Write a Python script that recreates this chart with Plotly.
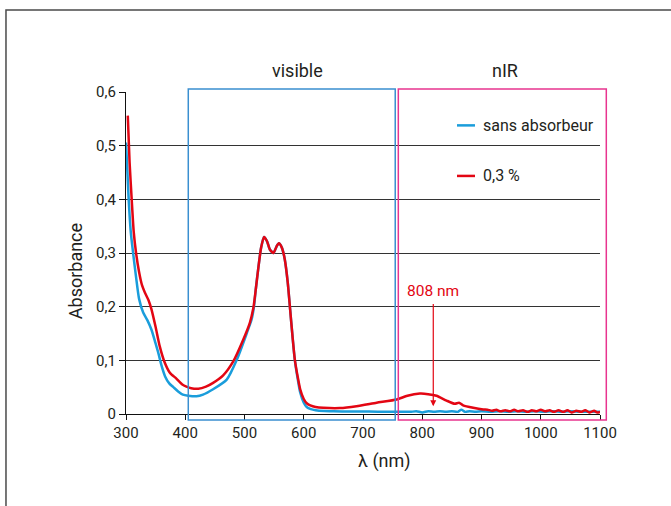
import plotly.graph_objects as go

# ---- data ----
wl_ref = [300, 302, 304.5, 308, 312, 317, 322, 329, 336, 343, 349, 354.5, 360, 366, 373, 380, 388, 396, 405,
          419, 430, 447, 470, 487, 504, 512, 516, 519, 523, 528, 533, 538, 543, 549, 554, 558, 563, 568, 573,
          577, 581, 585, 590, 594, 600, 605, 612, 620, 635, 650, 680, 710, 740, 770, 780, 790, 800, 810, 820,
          830, 840, 850, 860, 866, 872, 880, 890, 900, 915, 930, 945, 960, 975, 990, 1005, 1020, 1035, 1050,
          1065, 1080, 1100]
abs_ref = [0.506, 0.46, 0.40, 0.34, 0.30, 0.255, 0.215, 0.189, 0.175, 0.157, 0.135, 0.114, 0.090, 0.070, 0.057,
           0.050, 0.042, 0.036, 0.034, 0.033, 0.036, 0.046, 0.064, 0.101, 0.151, 0.176, 0.200, 0.232, 0.269,
           0.310, 0.330, 0.322, 0.306, 0.300, 0.312, 0.318, 0.310, 0.288, 0.245, 0.195, 0.145, 0.100, 0.064,
           0.040, 0.021, 0.013, 0.009, 0.007, 0.0055, 0.005, 0.0045, 0.0045, 0.004, 0.004, 0.004, 0.005, 0.003,
           0.005, 0.004, 0.005, 0.004, 0.005, 0.004, 0.008, 0.004, 0.005, 0.004, 0.005, 0.004, 0.005, 0.004,
           0.005, 0.004, 0.005, 0.004, 0.005, 0.004, 0.005, 0.004, 0.004, 0.004]

wl_abs = [303, 306, 309.6, 313, 317, 322, 327, 332, 338, 343, 350, 357, 365, 374, 385, 395, 402, 410, 422, 435,
          447, 464, 481, 498, 509, 515, 519, 523, 528, 533, 538, 543, 549, 554, 558, 563, 568, 573, 577, 581,
          585, 590, 594, 600, 605, 611, 620, 633, 661, 689, 723, 757, 775, 796, 810, 824, 841, 855, 862, 869,
          886, 903, 910, 918, 925, 932, 940, 948, 955, 962, 970, 978, 985, 992, 1000, 1008, 1015, 1022, 1030,
          1038, 1045, 1052, 1060, 1068, 1075, 1082, 1090, 1095, 1100]
abs_abs = [0.556, 0.47, 0.40, 0.34, 0.30, 0.265, 0.24, 0.226, 0.212, 0.195, 0.162, 0.126, 0.097, 0.077, 0.066,
           0.055, 0.051, 0.048, 0.047, 0.051, 0.058, 0.072, 0.098, 0.139, 0.170, 0.198, 0.232, 0.269, 0.310,
           0.330, 0.322, 0.306, 0.300, 0.312, 0.318, 0.310, 0.288, 0.245, 0.195, 0.145, 0.101, 0.068, 0.046,
           0.028, 0.020, 0.016, 0.013, 0.0115, 0.011, 0.0145, 0.021, 0.027, 0.034, 0.038, 0.037, 0.034, 0.025,
           0.019, 0.021, 0.016, 0.0115, 0.0085, 0.008, 0.006, 0.008, 0.005, 0.007, 0.005, 0.008, 0.005, 0.007,
           0.004, 0.007, 0.005, 0.008, 0.005, 0.007, 0.004, 0.007, 0.004, 0.007, 0.003, 0.006, 0.004, 0.007,
           0.003, 0.006, 0.003, 0.004]

x_ticks = [300, 400, 500, 600, 700, 800, 900, 1000, 1100]
y_ticks = [0, 0.1, 0.2, 0.3, 0.4, 0.5, 0.6]
y_tick_text = ["0", "0,1", "0,2", "0,3", "0,4", "0,5", "0,6"]
series_names = ["sans absorbeur", "0,3 %"]

BLUE = "#1a9ddb"
RED = "#e30613"
BOX_BLUE = "#3a8fd0"
BOX_PINK = "#e8348f"
FONT = "Roboto"
TXT = "#231f20"

fig = go.Figure()
fig.add_trace(go.Scatter(x=wl_ref, y=abs_ref, mode="lines", name=series_names[0],
                         line=dict(color=BLUE, width=2.5, shape="spline", smoothing=0.6),
                         showlegend=False, cliponaxis=False))
fig.add_trace(go.Scatter(x=wl_abs, y=abs_abs, mode="lines", name=series_names[1],
                         line=dict(color=RED, width=2.5, shape="spline", smoothing=0.6),
                         showlegend=False, cliponaxis=False))

shapes = []
# outer frame (cropped)
shapes.append(dict(type="rect", xref="paper", yref="paper", x0=-0.2532, x1=3, y0=-3, y1=1.2543,
                   line=dict(color="#4a4a4a", width=1.5), layer="below"))
# region boxes
shapes.append(dict(type="rect", xref="paper", yref="paper", x0=0.1314, x1=0.568, y0=-0.019, y1=1.0093,
                   line=dict(color=BOX_BLUE, width=1.5), layer="above"))
shapes.append(dict(type="rect", xref="paper", yref="paper", x0=0.5745, x1=1.0133, y0=-0.019, y1=1.0093,
                   line=dict(color=BOX_PINK, width=1.5), layer="above"))
# legend samples
shapes.append(dict(type="line", xref="x", yref="y", x0=858.6, x1=889, y0=0.5378, y1=0.5378,
                   line=dict(color=BLUE, width=2.5)))
shapes.append(dict(type="line", xref="x", yref="y", x0=858.6, x1=889, y0=0.4436, y1=0.4436,
                   line=dict(color=RED, width=2.5)))

C = dict(xanchor="center", yanchor="middle")
annotations = [
    dict(x=899, y=0.5378, xref="x", yref="y", text=series_names[0], showarrow=False, xanchor="left",
         yanchor="middle", font=dict(family=FONT, size=16, color=TXT)),
    dict(x=899, y=0.4436, xref="x", yref="y", text=series_names[1], showarrow=False, xanchor="left",
         yanchor="middle", font=dict(family=FONT, size=16, color=TXT)),
    dict(x=0.3624, y=1.068, xref="paper", yref="paper", text="visible", showarrow=False,
         font=dict(family=FONT, size=18, color=TXT), **C),
    dict(x=0.7987, y=1.068, xref="paper", yref="paper", text="nIR", showarrow=False,
         font=dict(family=FONT, size=18, color=TXT), **C),
    dict(x=-0.1076, y=0.4434, xref="paper", yref="paper", text="Absorbance", showarrow=False,
         textangle=-90, font=dict(family=FONT, size=18, color=TXT), **C),
    dict(x=0.5464, y=-0.1464, xref="paper", yref="paper", text="λ (nm)", showarrow=False,
         font=dict(family=FONT, size=18, color=TXT), **C),
    dict(x=818.6, y=0.0145, xref="x", yref="y", ax=818.6, ay=0.23, axref="x", ayref="y",
         text="808 nm", showarrow=True, arrowhead=2, arrowsize=1, arrowwidth=1.2, arrowcolor=RED,
         startstandoff=3, font=dict(family=FONT, size=15.5, color=RED)),
]

fig.update_layout(
    width=671, height=506,
    margin=dict(l=126, r=71, t=92, b=92),
    paper_bgcolor="white", plot_bgcolor="white",
    shapes=shapes, annotations=annotations,
    font=dict(family=FONT, size=15, color=TXT),
    xaxis=dict(range=[300, 1100], tickvals=x_ticks, ticktext=[str(v) for v in x_ticks],
               showgrid=False, zeroline=False, showline=True, linecolor="#111", linewidth=1.3,
               ticks="outside", ticklen=5, tickwidth=1.3, tickcolor="#111",
               tickfont=dict(family=FONT, size=15, color=TXT)),
    yaxis=dict(range=[0, 0.6], tickvals=y_ticks, ticktext=y_tick_text,
               showgrid=True, gridcolor="#333", gridwidth=1, zeroline=False,
               showline=True, linecolor="#111", linewidth=1.3,
               ticks="outside", ticklen=6, tickwidth=1.3, tickcolor="#111",
               tickfont=dict(family=FONT, size=15, color=TXT)),
)

fig.write_html("out.html")
